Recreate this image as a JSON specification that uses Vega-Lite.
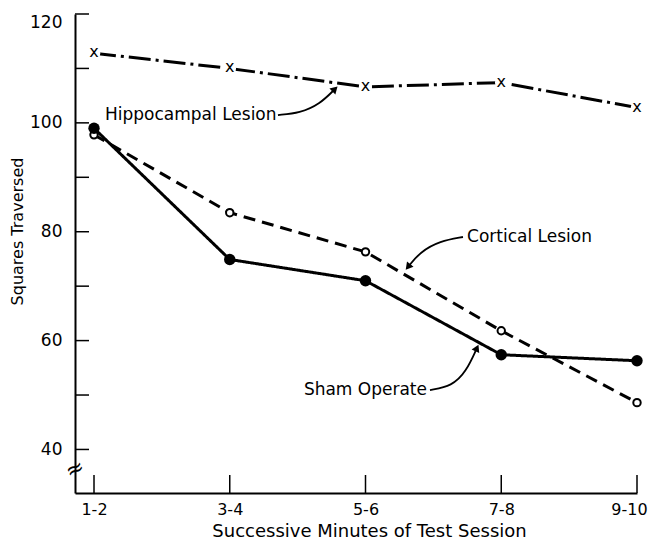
{
  "$schema": "https://vega.github.io/schema/vega-lite/v6.json",
  "width": 562,
  "height": 479,
  "autosize": "none",
  "padding": {"left": 75, "top": 14, "right": 17, "bottom": 50},
  "background": "white",
  "config": {"view": {"stroke": null}, "font": "DejaVu Sans"},
  "datasets": {
    "main": [
      {"group": "Hippocampal Lesion", "x": 1, "y": 112.8},
      {"group": "Hippocampal Lesion", "x": 2, "y": 110.0},
      {"group": "Hippocampal Lesion", "x": 3, "y": 106.6},
      {"group": "Hippocampal Lesion", "x": 4, "y": 107.4},
      {"group": "Hippocampal Lesion", "x": 5, "y": 102.8},
      {"group": "Cortical Lesion", "x": 1, "y": 97.8},
      {"group": "Cortical Lesion", "x": 2, "y": 83.5},
      {"group": "Cortical Lesion", "x": 3, "y": 76.3},
      {"group": "Cortical Lesion", "x": 4, "y": 61.8},
      {"group": "Cortical Lesion", "x": 5, "y": 48.6},
      {"group": "Sham Operate", "x": 1, "y": 99.0},
      {"group": "Sham Operate", "x": 2, "y": 74.9},
      {"group": "Sham Operate", "x": 3, "y": 71.0},
      {"group": "Sham Operate", "x": 4, "y": 57.4},
      {"group": "Sham Operate", "x": 5, "y": 56.3}
    ],
    "labels": [
      {"text": "Hippocampal Lesion", "x": 1.081, "y": 101.44},
      {"text": "Cortical Lesion", "x": 3.748, "y": 79.03},
      {"text": "Sham Operate", "x": 3.453, "y": 50.92}
    ],
    "arrows": [
      {"id": "h", "o": 1, "x": 2.355, "y": 101.44},
      {"id": "h", "o": 2, "x": 2.517, "y": 101.81},
      {"id": "h", "o": 3, "x": 2.665, "y": 103.47},
      {"id": "h", "o": 4, "x": 2.775, "y": 106.22},
      {"id": "c", "o": 1, "x": 3.718, "y": 79.03},
      {"id": "c", "o": 2, "x": 3.549, "y": 78.3},
      {"id": "c", "o": 3, "x": 3.401, "y": 76.27},
      {"id": "c", "o": 4, "x": 3.313, "y": 73.52},
      {"id": "s", "o": 1, "x": 3.475, "y": 50.92},
      {"id": "s", "o": 2, "x": 3.637, "y": 51.66},
      {"id": "s", "o": 3, "x": 3.74, "y": 54.23},
      {"id": "s", "o": 4, "x": 3.821, "y": 58.64}
    ],
    "brk": [{"x": 0.86, "y": 36.4, "text": "≈"}],
    "yticks": [
      {"x": 0.86, "y": 40}, {"x": 0.86, "y": 50}, {"x": 0.86, "y": 60},
      {"x": 0.86, "y": 70}, {"x": 0.86, "y": 80}, {"x": 0.86, "y": 90},
      {"x": 0.86, "y": 100}, {"x": 0.86, "y": 110}, {"x": 0.86, "y": 120}
    ],
    "xticks": [
      {"x": 1, "y": 32}, {"x": 2, "y": 32}, {"x": 3, "y": 32}, {"x": 4, "y": 32}, {"x": 5, "y": 32}
    ]
  },
  "encoding": {
    "x": {
      "field": "x", "type": "quantitative",
      "scale": {"domain": [0.86, 5], "nice": false, "zero": false},
      "axis": {
        "values": [1, 2, 3, 4, 5],
        "labelExpr": "['1-2','3-4','5-6','7-8','9-10'][datum.value-1]",
        "grid": false, "labelFlush": false, "ticks": false,
        "domain": true, "domainColor": "black", "domainWidth": 2,
        "labelPadding": 8,
        "labelOffset": {"condition": {"test": "datum.value == 5", "value": -8}, "value": 0},
        "labelFont": "DejaVu Sans", "labelFontSize": 16, "labelColor": "black",
        "title": "Successive Minutes of Test Session",
        "titleFont": "DejaVu Sans", "titleFontSize": 18, "titleFontWeight": "normal", "titleColor": "black",
        "titleX": 294, "titleY": 38, "titleAlign": "center", "titleBaseline": "middle"
      }
    },
    "y": {
      "field": "y", "type": "quantitative",
      "scale": {"domain": [32, 120], "nice": false, "zero": false},
      "axis": {
        "values": [40, 60, 80, 100, 120],
        "grid": false, "labelFlush": false, "ticks": false,
        "domain": true, "domainColor": "black", "domainWidth": 2,
        "labelPadding": 13,
        "labelOffset": {"condition": {"test": "datum.value == 120", "value": 8}, "value": 0},
        "labelFont": "DejaVu Sans", "labelFontSize": 17, "labelColor": "black",
        "title": "Squares Traversed",
        "titleFont": "DejaVu Sans", "titleFontSize": 16, "titleFontWeight": "normal", "titleColor": "black",
        "titleX": -58, "titleY": 217, "titleAlign": "center", "titleBaseline": "middle"
      }
    }
  },
  "layer": [
    {
      "data": {"name": "yticks"},
      "mark": {"type": "tick", "orient": "horizontal", "size": 14, "thickness": 1.5, "xOffset": 7, "color": "black", "opacity": 1},
      "encoding": {}
    },
    {
      "data": {"name": "xticks"},
      "mark": {"type": "tick", "orient": "vertical", "size": 18, "thickness": 1.5, "yOffset": -9, "color": "black", "opacity": 1},
      "encoding": {}
    },
    {
      "data": {"name": "main"},
      "mark": {"type": "line", "strokeWidth": 3, "color": "black"},
      "encoding": {
        "strokeDash": {
          "field": "group", "type": "nominal",
          "scale": {"domain": ["Hippocampal Lesion", "Cortical Lesion", "Sham Operate"], "range": [[22, 5, 3, 5], [12, 7], [1, 0]]},
          "legend": null
        }
      }
    },
    {
      "data": {"name": "main"},
      "transform": [{"filter": "datum.group == 'Hippocampal Lesion'"}],
      "mark": {"type": "point", "shape": "circle", "filled": true, "color": "white", "size": 160, "opacity": 1},
      "encoding": {}
    },
    {
      "data": {"name": "main"},
      "transform": [{"filter": "datum.group == 'Hippocampal Lesion'"}],
      "mark": {"type": "text", "text": "x", "fontSize": 16, "baseline": "alphabetic", "dy": 4, "color": "black", "font": "DejaVu Sans"},
      "encoding": {}
    },
    {
      "data": {"name": "main"},
      "transform": [{"filter": "datum.group == 'Cortical Lesion'"}],
      "mark": {"type": "point", "shape": "circle", "filled": false, "fill": "white", "stroke": "black", "strokeWidth": 2, "size": 55, "opacity": 1},
      "encoding": {}
    },
    {
      "data": {"name": "main"},
      "transform": [{"filter": "datum.group == 'Sham Operate'"}],
      "mark": {"type": "point", "shape": "circle", "filled": true, "color": "black", "size": 130, "opacity": 1},
      "encoding": {}
    },
    {
      "data": {"name": "labels"},
      "transform": [{"filter": "datum.text != 'Sham Operate'"}],
      "mark": {"type": "text", "align": "left", "baseline": "middle", "fontSize": 17, "color": "black", "font": "DejaVu Sans"},
      "encoding": {"text": {"field": "text"}}
    },
    {
      "data": {"name": "labels"},
      "transform": [{"filter": "datum.text == 'Sham Operate'"}],
      "mark": {"type": "text", "align": "right", "baseline": "middle", "fontSize": 17, "color": "black", "font": "DejaVu Sans"},
      "encoding": {"text": {"field": "text"}}
    },
    {
      "data": {"name": "arrows"},
      "mark": {"type": "line", "interpolate": "basis", "strokeWidth": 1.8, "color": "black"},
      "encoding": {"detail": {"field": "id"}, "order": {"field": "o"}}
    },
    {
      "data": {"name": "arrows"},
      "transform": [{"filter": "datum.id == 'h' && datum.o == 4"}],
      "mark": {"type": "point", "shape": "triangle-up", "filled": true, "color": "black", "size": 70, "angle": 45, "opacity": 1},
      "encoding": {}
    },
    {
      "data": {"name": "arrows"},
      "transform": [{"filter": "datum.id == 'c' && datum.o == 4"}],
      "mark": {"type": "point", "shape": "triangle-up", "filled": true, "color": "black", "size": 70, "angle": 219, "opacity": 1},
      "encoding": {}
    },
    {
      "data": {"name": "arrows"},
      "transform": [{"filter": "datum.id == 's' && datum.o == 4"}],
      "mark": {"type": "point", "shape": "triangle-up", "filled": true, "color": "black", "size": 70, "angle": 25, "opacity": 1},
      "encoding": {}
    },
    {
      "data": {"name": "brk"},
      "mark": {"type": "text", "fontSize": 22, "angle": -25, "baseline": "middle", "align": "center", "color": "black", "font": "DejaVu Sans"},
      "encoding": {"text": {"field": "text"}}
    }
  ]
}
